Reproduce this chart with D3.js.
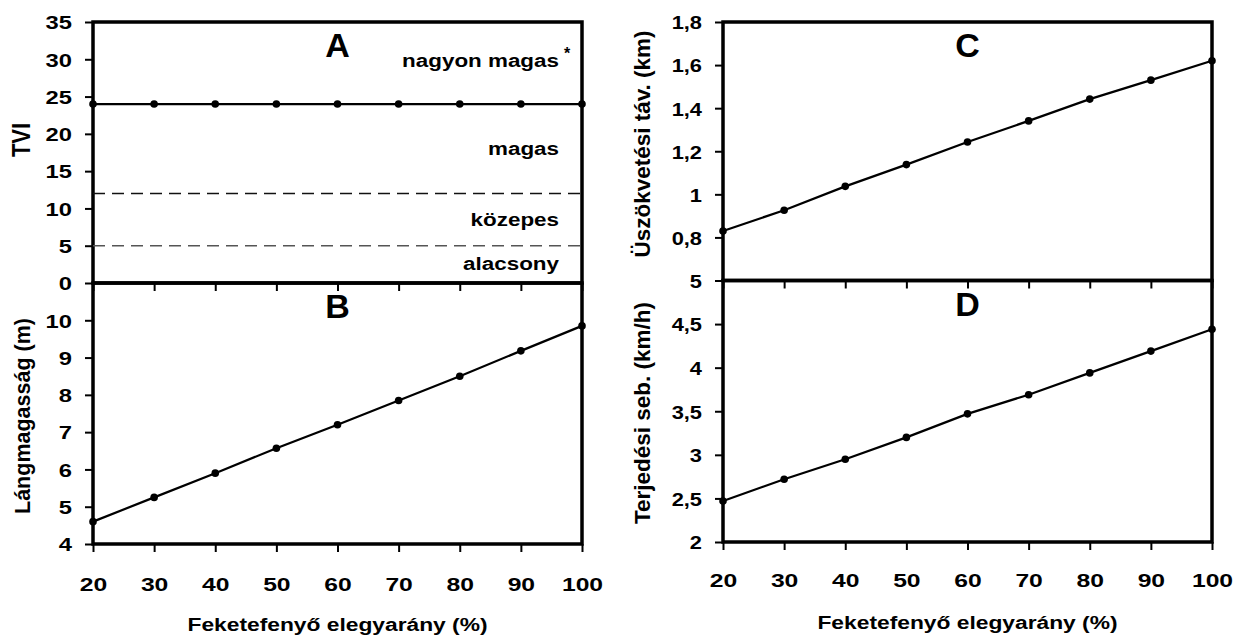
<!DOCTYPE html>
<html lang="hu">
<head>
<meta charset="utf-8">
<title>Feketefenyő elegyarány</title>
<script src="https://d3js.org/d3.v7.min.js"></script>
<style>
  body { margin: 0; background: #fff; }
  text { font-family: "Liberation Sans", Arial, sans-serif; font-weight: bold; fill: #000; }
</style>
</head>
<body>
<div id="chart"></div>
<script>
// share of black pine (%)
const share = [20, 30, 40, 50, 60, 70, 80, 90, 100];

// A: TVI, B: flame height, C: spotting distance, D: spread rate
const tvi = [24, 24, 24, 24, 24, 24, 24, 24, 24];
const flameHeight = [4.6, 5.25, 5.9, 6.57, 7.2, 7.85, 8.5, 9.18, 9.85];
const spotting = [0.83, 0.926, 1.037, 1.138, 1.243, 1.341, 1.442, 1.53, 1.62];
const spreadRate = [2.47, 2.72, 2.95, 3.2, 3.47, 3.69, 3.94, 4.19, 4.44];

const xTicks = [20, 30, 40, 50, 60, 70, 80, 90, 100];
const ticksA = [0, 5, 10, 15, 20, 25, 30, 35];
const ticksB = [4, 5, 6, 7, 8, 9, 10];
const ticksC = [0.8, 1, 1.2, 1.4, 1.6, 1.8];
const ticksD = [2, 2.5, 3, 3.5, 4, 4.5, 5];

// TVI class bounds and labels
const classLines = [12, 5];
const classLabels = ["nagyon magas", "magas", "közepes", "alacsony"];
const classLabelY = [29, 17.1, 7.7, 1.8];

const W = 1242, H = 637;
const svg = d3.select("#chart").append("svg").attr("width", W).attr("height", H);

const fmt = d => String(d).replace(".", ",");

// the original figure text is drawn a bit wide, so stretch it horizontally
function stretch(sel, sx) {
  sel.each(function () {
    const t = d3.select(this);
    const x = +t.attr("x") || 0;
    t.attr("x", x / sx).attr("transform", `scale(${sx},1)`);
  });
}

function panel(o) {
  const g = svg.append("g");
  const x = d3.scaleLinear().domain([20, 100]).range([o.x0, o.x1]);
  const y = d3.scaleLinear().domain(o.domain).range([o.y1, o.y0]);

  // frame
  g.append("rect")
    .attr("x", o.x0).attr("y", o.y0)
    .attr("width", o.x1 - o.x0).attr("height", o.y1 - o.y0)
    .attr("fill", "none").attr("stroke", "#000").attr("stroke-width", 3.5);

  // y axis
  const ya = g.append("g").attr("transform", `translate(${o.x0},0)`)
    .call(d3.axisLeft(y).tickValues(o.ticks).tickSize(8).tickPadding(o.yPad).tickFormat(fmt));
  ya.select(".domain").remove();
  ya.selectAll(".tick line").attr("stroke-width", 2);
  ya.selectAll(".tick text").attr("font-size", 19).attr("font-family", null).attr("dy", "0.36em");
  stretch(ya.selectAll(".tick text"), o.ySx);

  // x axis ticks
  const xa = g.append("g").attr("transform", `translate(0,${o.y1})`)
    .call(d3.axisBottom(x).tickValues(xTicks).tickSize(8));
  xa.select(".domain").remove();
  xa.selectAll(".tick line").attr("stroke-width", 2);
  if (o.xLabels) {
    xa.selectAll(".tick text").attr("font-size", 19).attr("font-family", null)
      .attr("y", o.xLabels).attr("dy", null);
    stretch(xa.selectAll(".tick text"), 1.3);
  } else {
    xa.selectAll(".tick text").remove();
  }

  // y title
  g.append("text")
    .attr("transform", `translate(${o.titleX},${o.titleY}) rotate(-90) scale(1,${o.titleSy || 1})`)
    .attr("text-anchor", "middle").attr("font-size", o.titleSize)
    .text(o.title);

  // panel letter
  g.append("text")
    .attr("x", (o.x0 + o.x1) / 2).attr("y", o.y0 + 35)
    .attr("text-anchor", "middle").attr("font-size", 34)
    .text(o.letter);

  const line = d3.line().x((d, i) => x(share[i])).y(d => y(d));
  g.append("path").datum(o.values)
    .attr("d", line).attr("fill", "none").attr("stroke", "#000").attr("stroke-width", 2.2);
  g.selectAll("circle.pt").data(o.values).join("circle")
    .attr("class", "pt")
    .attr("cx", (d, i) => x(share[i])).attr("cy", d => y(d))
    .attr("r", 3.8).attr("fill", "#000");

  return { g, x, y };
}

const A = panel({ x0: 93, x1: 582, y0: 22, y1: 283, domain: [0, 35], ticks: ticksA,
  yPad: 13, ySx: 1.25, values: tvi, title: "TVI", titleX: 30, titleY: 140, titleSize: 22, titleSy: 1.2,
  letter: "A", xLabels: false });

// class boundaries
A.g.selectAll("line.cls").data(classLines).join("line")
  .attr("class", "cls")
  .attr("x1", 93).attr("x2", 582)
  .attr("y1", d => A.y(d)).attr("y2", d => A.y(d))
  .attr("stroke", (d, i) => i === 0 ? "#111" : "#555")
  .attr("stroke-width", 1.5).attr("stroke-dasharray", "12,7");

const cls = A.g.selectAll("text.cls").data(classLabels).join("text")
  .attr("class", "cls")
  .attr("x", 559).attr("y", (d, i) => A.y(classLabelY[i]))
  .attr("text-anchor", "end").attr("font-size", 19)
  .text(d => d);
stretch(cls, 1.18);
A.g.append("text").attr("x", 564).attr("y", 59)
  .attr("font-size", 16).text("*");

panel({ x0: 93, x1: 582, y0: 283, y1: 544, domain: [4, 11], ticks: ticksB,
  yPad: 13, ySx: 1.25, values: flameHeight, title: "Lángmagasság (m)", titleX: 30, titleY: 416,
  titleSize: 21.5, letter: "B", xLabels: 47 });

panel({ x0: 723, x1: 1212, y0: 22, y1: 280.5, domain: [0.6, 1.8], ticks: ticksC,
  yPad: 13, ySx: 1.15, values: spotting, title: "Üszökvetési táv. (km)", titleX: 650, titleY: 144,
  titleSize: 22.5, letter: "C", xLabels: false });

panel({ x0: 723, x1: 1212, y0: 280.5, y1: 542, domain: [2, 5], ticks: ticksD,
  yPad: 13, ySx: 1.15, values: spreadRate, title: "Terjedési seb. (km/h)", titleX: 650, titleY: 413,
  titleSize: 22.5, letter: "D", xLabels: 45 });

// x titles
const xt = svg.selectAll("text.xtitle").data([[337.5, 631], [967.5, 629]]).join("text")
  .attr("class", "xtitle")
  .attr("x", d => d[0]).attr("y", d => d[1])
  .attr("text-anchor", "middle").attr("font-size", 19)
  .text("Feketefenyő elegyarány (%)");
stretch(xt, 1.2);
</script>
</body>
</html>
